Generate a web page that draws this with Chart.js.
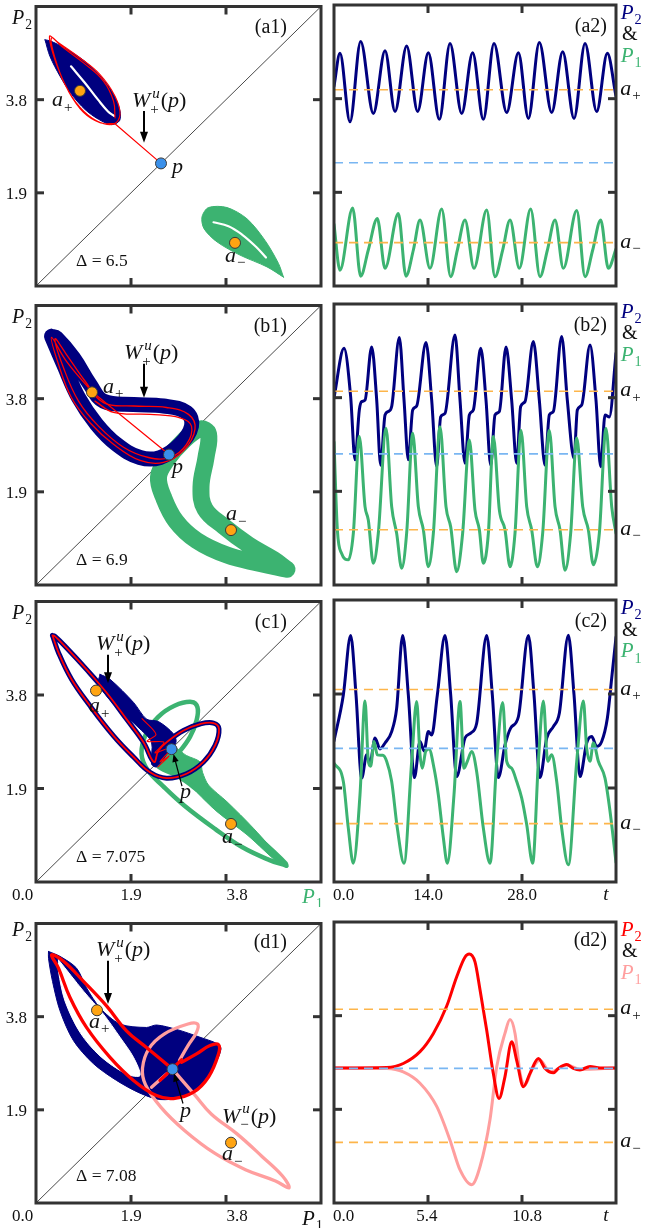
<!DOCTYPE html>
<html>
<head>
<meta charset="utf-8">
<title>P1 / P2</title>
<script src="https://cdn.jsdelivr.net/npm/chart.js@4.4.1/dist/chart.umd.min.js"></script>
<style>
  html, body { margin: 0; padding: 0; background: #fff; }
  body { position: relative; width: 645px; height: 1228px; overflow: hidden; }
  canvas { position: absolute; }
</style>
</head>
<body>
<canvas id="a1" width="328" height="311" style="left:0;top:0"></canvas>
<canvas id="a2" width="317" height="311" style="left:328px;top:0"></canvas>
<canvas id="b1" width="328" height="311" style="left:0;top:299px"></canvas>
<canvas id="b2" width="317" height="311" style="left:328px;top:299px"></canvas>
<canvas id="c1" width="328" height="312" style="left:0;top:595px"></canvas>
<canvas id="c2" width="317" height="312" style="left:328px;top:595px"></canvas>
<canvas id="d1" width="328" height="311" style="left:0;top:917px"></canvas>
<canvas id="d2" width="317" height="311" style="left:328px;top:917px"></canvas>
<script>
// ===== valeurs =====
const phaseMax = 5.7;
const phaseTicks = [1.9, 3.8];
const phaseTickLabels = ['1.9', '3.8'];
const timeMax = [42, 42, 42, 16.2];
const timeTicksLong = [14, 28];
const timeTickLabelsLong = ['0.0', '14.0', '28.0'];
const timeTicksShort = [5.4, 10.8];
const timeTickLabelsShort = ['0.0', '5.4', '10.8'];
const deltas = ['6.5', '6.9', '7.075', '7.08'];
const diagonal = [[0, 0], [5.7, 5.7]];

// points fixes a+, a-, p pour chaque ligne (a, b, c, d)
const aPlusPts = [[0.88, 3.98], [1.12, 3.93], [1.2, 3.89], [1.22, 3.93]];
const aMinusPts = [[3.98, 0.88], [3.9, 1.12], [3.9, 1.18], [3.9, 1.23]];
const pPts = [[2.5, 2.5], [2.66, 2.66], [2.71, 2.7], [2.73, 2.73]];

// --- (a1) ---
const a1Navy = [[0.18,5.02],[0.28,4.68],[0.48,4.28],[0.71,3.91],[0.98,3.60],[1.25,3.40],[1.51,3.29],[1.67,3.37],[1.68,3.57],[1.55,3.91],[1.31,4.25],[0.98,4.58],[0.58,4.85],[0.28,5.00]];
const a1NavyGap = [[0.70,4.48],[0.98,4.14],[1.24,3.80],[1.44,3.56],[1.56,3.47]];
const a1Green = [[4.95,0.18],[4.62,0.39],[4.08,0.63],[3.62,0.90],[3.36,1.17],[3.32,1.41],[3.45,1.60],[3.82,1.60],[4.22,1.37],[4.58,0.93],[4.85,0.46]];
const a1GreenGap = [[3.55,1.30],[3.85,1.22],[4.12,1.05],[4.40,0.80],[4.60,0.58]];
const a1RedStem = [[2.5,2.5],[1.58,3.31]];
const a1Red = [[1.58,3.31],[1.28,3.33],[0.95,3.54],[0.65,3.97],[0.41,4.52],[0.27,5.09],[0.45,4.96],[0.88,4.65],[1.28,4.31],[1.58,3.87],[1.68,3.50],[1.55,3.30],[1.21,3.37],[0.88,3.64],[0.58,4.11],[0.38,4.65],[0.31,5.06],[0.51,4.89],[0.95,4.55],[1.35,4.18],[1.55,3.77],[1.58,3.43]];

// --- (b1) ---
const b1Navy = [[0.31,5.07],[0.55,4.50],[0.85,3.82],[1.21,3.28],[1.61,2.87],[2.08,2.60],[2.48,2.60],[2.88,2.87],[3.11,3.24],[3.01,3.52],[2.55,3.65],[1.95,3.68],[1.35,3.75],[1.08,4.09],[0.75,4.63],[0.41,5.04]];
const b1Green = [[5.02,0.32],[4.48,0.44],[3.82,0.61],[3.21,0.91],[2.80,1.30],[2.55,1.79],[2.45,2.20],[2.61,2.54],[2.95,2.94],[3.28,3.18],[3.45,3.08],[3.40,2.60],[3.30,2.00],[3.38,1.55],[3.75,1.20],[4.25,0.82],[4.75,0.52]];
const b1RedStem = [[2.66,2.66],[1.11,3.95]];
const b1Red = [[1.11,3.95],[0.61,4.56],[0.31,5.05],[0.45,4.50],[0.71,3.82],[1.08,3.31],[1.55,2.87],[2.08,2.54],[2.55,2.50],[2.95,2.74],[3.18,3.18],[3.05,3.48],[2.61,3.62],[1.95,3.65],[1.35,3.72],[0.98,4.16],[0.61,4.70],[0.38,5.02],[0.55,4.43],[0.85,3.75],[1.25,3.24],[1.75,2.81],[2.25,2.60],[2.68,2.60],[3.01,2.87],[3.11,3.24],[2.88,3.41],[2.28,3.48],[1.55,3.52],[1.18,3.75]];

// --- (c1) ---
const c1Navy = [[0.33,5.01],[0.45,4.66],[0.71,4.12],[1.08,3.58],[1.55,2.97],[1.95,2.54],[2.28,2.23],[2.61,2.11],[3.01,2.20],[3.35,2.44],[3.58,2.77],[3.66,3.11],[3.55,3.23],[3.28,3.21],[2.95,3.08],[2.65,2.87],[2.45,2.67],[2.36,2.44],[2.15,2.84],[1.81,3.31],[1.41,3.85],[1.01,4.32],[0.61,4.76],[0.38,4.99]];
const c1NavyWedge = [[1.28,4.22],[1.48,4.12],[1.95,3.65],[2.21,3.31],[2.45,3.26],[2.75,3.01],[2.80,2.84],[2.65,2.64],[2.41,2.34],[2.31,2.40],[2.31,2.84],[2.08,3.11],[1.61,3.55],[1.25,4.02]];
const c1Green = [[5.01,0.33],[4.66,0.45],[4.12,0.71],[3.58,1.08],[2.97,1.55],[2.54,1.95],[2.23,2.28],[2.11,2.61],[2.20,3.01],[2.44,3.35],[2.77,3.58],[3.11,3.66],[3.23,3.55],[3.21,3.28],[3.08,2.95],[2.87,2.65],[2.67,2.45],[2.44,2.36],[2.84,2.15],[3.31,1.81],[3.85,1.41],[4.32,1.01],[4.76,0.61],[4.99,0.38]];
const c1GreenWedge = [[2.45,2.64],[2.75,2.74],[3.01,2.57],[3.28,2.44],[3.33,2.23],[3.45,1.97],[3.82,1.63],[4.35,1.09],[4.92,0.42],[4.88,0.36],[4.22,0.96],[3.62,1.43],[3.21,1.83],[2.88,2.17],[2.55,2.30],[2.41,2.40]];
const c1RedTangle = [[2.12,3.32],[2.40,3.00],[2.22,2.86],[2.56,2.84],[2.38,2.62],[2.72,2.74],[2.48,2.44],[2.66,2.56],[2.44,2.34]];

// --- (d1) ---
const d1NavyOuter = [[0.25,5.13],[0.48,5.03],[0.81,4.79],[1.01,4.39],[1.28,3.98],[1.68,3.65],[2.21,3.58],[2.41,3.63],[2.81,3.54],[3.28,3.38],[3.62,3.25],[3.70,3.14],[3.55,2.77],[3.28,2.40],[2.91,2.16],[2.48,2.11],[2.08,2.24],[1.61,2.50],[1.15,2.84],[0.75,3.31],[0.48,3.92],[0.33,4.52],[0.25,4.99]];
const d1NavyHole = [[0.45,4.96],[0.95,4.32],[1.35,3.85],[1.68,3.38],[1.95,2.97],[2.08,2.60],[1.81,2.63],[1.28,3.00],[0.88,3.48],[0.58,4.12],[0.45,4.73]];
const d1Red = [[2.73,2.73],[2.21,3.17],[1.81,3.51],[1.41,4.02],[0.95,4.52],[0.55,4.93],[0.31,5.06],[0.45,4.79],[0.68,4.19],[1.01,3.58],[1.48,2.97],[1.95,2.50],[2.41,2.19],[2.75,2.13],[3.15,2.26],[3.45,2.57],[3.65,3.04],[3.65,3.23],[3.48,3.21],[3.21,3.04],[2.91,2.87]];
const d1RedSeg = [[2.48,2.50],[2.91,2.92]];
const d1Pink = [[2.73,2.73],[3.17,2.21],[3.51,1.81],[4.02,1.41],[4.52,0.95],[4.93,0.55],[5.06,0.31],[4.79,0.45],[4.19,0.68],[3.58,1.01],[2.97,1.48],[2.50,1.95],[2.19,2.41],[2.13,2.75],[2.26,3.15],[2.57,3.45],[3.04,3.65],[3.23,3.65],[3.21,3.48],[3.04,3.21],[2.87,2.91]];
const d1PinkSeg = [[2.31,2.36],[2.61,2.63]];

// --- séries temporelles [t, valeur] ---
const a2P2 = [[0,4.05],[0.89,4.72],[2.38,3.33],[3.97,4.96],[5.86,3.50],[7.60,4.77],[9.09,3.54],[10.82,4.87],[12.46,3.54],[14.05,4.73],[15.69,3.38],[17.28,4.92],[19.02,3.50],[20.65,4.73],[22.24,3.38],[23.83,4.92],[25.72,3.52],[27.46,4.73],[28.95,3.40],[30.58,4.94],[32.42,3.52],[34.06,4.75],[35.75,3.40],[37.39,4.92],[39.12,3.54],[40.71,4.72],[42,3.85]];
const a2P1 = [[0,1.25],[0.89,0.32],[2.78,1.58],[3.97,0.20],[5.11,0.73],[6.45,1.37],[7.60,0.36],[9.58,1.47],[10.72,0.20],[11.82,0.73],[12.81,1.34],[14.30,0.36],[16.04,1.56],[17.38,0.19],[18.37,0.73],[19.51,1.34],[20.85,0.36],[22.74,1.54],[23.98,0.19],[25.12,0.73],[26.22,1.34],[27.60,0.36],[29.29,1.56],[30.68,0.19],[31.78,0.73],[32.92,1.34],[34.16,0.36],[36.15,1.53],[37.39,0.19],[38.53,0.73],[39.72,1.34],[40.86,0.36],[42,0.75]];
const b2P2 = [[0,3.80],[1.49,4.80],[2.48,3.82],[3.13,2.54],[3.77,3.55],[4.12,3.72],[4.62,3.75],[5.61,4.83],[6.36,3.75],[6.95,2.43],[7.60,3.45],[8.09,3.52],[8.59,3.62],[9.73,5.02],[10.43,3.75],[11.07,2.54],[11.72,3.55],[12.31,3.63],[13.70,4.92],[14.55,3.75],[15.29,2.40],[15.89,3.41],[16.53,3.48],[18.02,5.07],[18.77,3.75],[19.51,2.47],[20.16,3.45],[20.75,3.55],[21.85,4.80],[22.64,3.75],[23.34,2.43],[23.98,3.45],[24.63,3.52],[25.62,4.83],[26.46,3.75],[27.21,2.47],[27.80,3.62],[28.45,3.72],[29.69,4.94],[30.58,3.75],[31.43,2.43],[32.07,3.45],[32.67,3.52],[33.91,5.04],[34.75,3.75],[35.75,2.57],[36.24,3.55],[36.89,3.65],[38.13,4.87],[39.02,3.75],[39.72,2.40],[40.37,3.45],[41.01,3.41],[42,4.70]];
const b2P1 = [[0,2.90],[0.50,1.12],[1.14,0.64],[2.13,0.51],[2.88,1.05],[3.77,3.01],[4.62,1.59],[5.11,1.32],[5.86,0.44],[6.60,1.05],[7.75,3.18],[8.59,1.59],[9.33,1.05],[10.08,0.34],[10.82,1.05],[11.72,3.08],[12.56,1.59],[13.31,1.12],[14.05,0.37],[14.80,1.05],[15.79,3.21],[16.68,1.59],[17.38,1.18],[18.27,0.27],[19.16,1.05],[20.16,2.94],[21.00,1.52],[21.65,1.12],[22.24,0.44],[22.99,1.05],[23.73,3.01],[24.63,1.52],[25.47,1.12],[26.22,0.37],[26.96,1.05],[27.85,3.14],[28.70,1.59],[29.44,1.12],[30.29,0.37],[31.08,1.05],[32.07,3.14],[32.92,1.59],[33.66,1.12],[34.41,0.30],[35.25,1.05],[36.15,2.98],[37.04,1.59],[37.88,1.12],[38.63,0.41],[39.52,1.05],[40.51,3.18],[41.36,1.59],[42,1.05]];
const c2P2 = [[0,2.85],[1.39,3.78],[2.48,4.98],[3.28,3.78],[4.12,2.10],[4.87,2.57],[5.36,2.40],[6.11,2.91],[6.85,2.69],[7.60,2.81],[8.59,3.04],[9.33,3.51],[10.23,4.98],[11.07,3.78],[11.97,2.11],[12.81,2.84],[13.41,2.65],[14.05,3.04],[14.55,2.97],[15.39,3.78],[16.53,4.98],[17.38,3.78],[18.27,2.13],[19.51,2.91],[20.36,3.01],[21.25,3.21],[22.74,4.98],[23.58,3.78],[24.48,2.11],[25.47,2.77],[26.31,3.11],[27.46,3.34],[28.95,4.98],[29.79,3.78],[30.68,2.11],[31.68,2.91],[32.67,3.14],[33.56,3.41],[34.90,4.99],[35.75,3.78],[36.64,2.13],[37.63,2.81],[38.38,2.94],[39.12,2.74],[39.87,2.84],[40.71,3.31],[41.36,4.12],[42,4.95]];
const c2P1 = [[0,2.40],[1.39,2.03],[2.13,1.09],[2.88,0.38],[3.87,1.76],[4.62,3.66],[5.11,2.44],[5.46,2.34],[5.96,2.84],[6.45,2.57],[7.25,2.56],[7.84,2.44],[8.59,2.03],[9.43,1.09],[10.43,0.38],[11.57,2.44],[12.31,3.65],[12.81,2.57],[13.16,2.30],[13.65,2.64],[14.15,2.69],[14.90,2.30],[15.54,1.76],[16.29,0.89],[16.88,0.38],[17.87,1.76],[18.77,3.65],[19.36,2.30],[19.86,2.44],[20.51,2.64],[21.25,2.23],[22.24,1.09],[23.24,0.38],[24.23,2.44],[25.12,3.63],[25.72,2.44],[26.46,2.30],[27.21,2.03],[27.95,1.70],[28.70,1.16],[29.59,0.38],[30.44,2.44],[31.18,3.66],[31.83,2.44],[32.42,2.57],[33.17,2.03],[33.91,1.09],[34.90,0.35],[36.15,2.44],[37.14,3.66],[37.63,2.71],[38.13,2.44],[38.63,2.81],[39.37,2.44],[40.36,2.10],[41.11,1.43],[42,0.40]];
const d2P2 = [[0,2.74],[3.03,2.75],[3.98,2.83],[4.94,3.07],[5.71,3.44],[6.47,3.99],[7.05,4.59],[7.53,4.99],[7.77,5.05],[8.10,4.89],[8.39,4.32],[8.77,3.51],[9.15,2.63],[9.48,2.12],[9.82,2.56],[10.21,3.27],[10.49,2.90],[10.88,2.36],[11.26,2.63],[11.74,2.93],[12.12,2.73],[12.60,2.64],[12.89,2.73],[13.37,2.81],[13.75,2.73],[14.13,2.70],[14.71,2.77],[15.28,2.74],[16.2,2.74]];
const d2P1 = [[0,2.74],[3.03,2.73],[3.98,2.66],[4.94,2.43],[5.90,1.96],[6.66,1.28],[7.24,0.67],[7.91,0.37],[8.39,0.74],[8.96,1.69],[9.35,2.77],[9.82,3.44],[10.11,3.72],[10.40,3.44],[10.69,2.63],[10.97,2.39],[11.36,2.70],[11.83,2.90],[12.41,2.66],[13.37,2.80],[14.13,2.71],[16.2,2.74]];

// ===== couleurs =====
const NAVY = '#00007f', GREEN = '#3cb371', RED = '#ff0000', PINK = '#ff9e9e';
const ORANGE = '#ffa412', BLUE = '#3a90ea';
const DASH_OR = '#fdb54a', DASH_BL = '#79b6f2';
const FONT = '"Liberation Serif", "DejaVu Serif", serif';

// ===== outils =====
const toXY = (arr) => arr.map(([x, y]) => ({ x, y }));
const closed = (arr) => arr.concat([arr[0]]);

function curve(arr, color, width, tension) {
  return {
    data: toXY(arr), showLine: true, borderColor: color, borderWidth: width,
    tension: tension === undefined ? 0.4 : tension, pointRadius: 0,
    borderJoinStyle: 'round', borderCapStyle: 'round', fill: false, clip: 0
  };
}
function area(arr, color) {
  return Object.assign(curve(closed(arr), color, 1, 0.3), { fill: 'shape', backgroundColor: color });
}
function wave(arr, color) {
  return Object.assign(curve(arr, color, 3), { cubicInterpolationMode: 'monotone' });
}
function level(v, tm, color) {
  return Object.assign(curve([[0, v], [tm, v]], color, 1.6, 0), { borderDash: [9, 6], borderCapStyle: 'butt' });
}
function dot(pt, color) {
  return {
    data: toXY([pt]), showLine: false, pointRadius: 5.5, pointBackgroundColor: color,
    pointBorderColor: '#3a3a3a', pointBorderWidth: 1, clip: false
  };
}

// texte "mathématique" : romain, italique, indice, exposant+indice empilés
const R = (t) => ({ t });
const I = (t) => ({ t, i: true });
const S = (t) => ({ t, sub: true });
const SS = (sup, sub) => ({ sup, sub });
const P2lbl = [I('P'), S('2')];
const P1lbl = [I('P'), S('1')];
const aPlusLbl = [I('a'), S('+')];
const aMinusLbl = [I('a'), S('\u2212')];
const WPlus = [I('W'), SS('u', '+'), R('('), I('p'), R(')')];
const WMinus = [I('W'), SS('u', '\u2212'), R('('), I('p'), R(')')];
const MATH = 22;

const fontOf = (size, it) => (it ? 'italic ' : '') + size.toFixed(1) + 'px ' + FONT;

function partWidth(ctx, p, s) {
  if (p.sup !== undefined) {
    ctx.font = fontOf(s * 0.68, true);
    const a = ctx.measureText(p.sup).width;
    ctx.font = fontOf(s * 0.68, false);
    const b = ctx.measureText(p.sub).width;
    return Math.max(a, b) + 2;
  }
  ctx.font = fontOf(p.sub ? s * 0.68 : s, p.i);
  return ctx.measureText(p.t).width + (p.sub ? 1 : 0);
}

function drawRich(ctx, x, y, parts, s, color, al) {
  const widths = parts.map((p) => partWidth(ctx, p, s));
  const total = widths.reduce((a, b) => a + b, 0);
  let cx = al === 'right' ? x - total : al === 'center' ? x - total / 2 : x;
  ctx.fillStyle = color || '#111';
  ctx.textAlign = 'left';
  ctx.textBaseline = 'alphabetic';
  parts.forEach((p, i) => {
    if (p.sup !== undefined) {
      ctx.font = fontOf(s * 0.68, true);
      ctx.fillText(p.sup, cx + 2, y - s * 0.42);
      ctx.font = fontOf(s * 0.68, false);
      ctx.fillText(p.sub, cx, y + s * 0.3);
    } else {
      ctx.font = fontOf(p.sub ? s * 0.68 : s, p.i);
      ctx.fillText(p.t, cx + (p.sub ? 1 : 0), p.sub ? y + s * 0.25 : y);
    }
    cx += widths[i];
  });
}

function drawArrow(ctx, x1, y1, x2, y2, w) {
  const ang = Math.atan2(y2 - y1, x2 - x1);
  const h = w > 1.5 ? 11 : 8, hw = w > 1.5 ? 4 : 3.2;
  const c = Math.cos(ang), s = Math.sin(ang);
  ctx.strokeStyle = '#000';
  ctx.lineWidth = w;
  ctx.beginPath();
  ctx.moveTo(x1, y1);
  ctx.lineTo(x2 - h * 0.8 * c, y2 - h * 0.8 * s);
  ctx.stroke();
  ctx.fillStyle = '#000';
  ctx.beginPath();
  ctx.moveTo(x2, y2);
  ctx.lineTo(x2 - h * c + hw * s, y2 - h * s - hw * c);
  ctx.lineTo(x2 - h * c - hw * s, y2 - h * s + hw * c);
  ctx.closePath();
  ctx.fill();
}

// cadre, graduations, textes et flèches
const decorById = {};
const decorPlugin = {
  id: 'decor',
  afterDatasetsDraw(chart) {
    const d = decorById[chart.canvas.id];
    if (!d) return;
    const { ctx, chartArea: a } = chart;
    const sx = chart.scales.x, sy = chart.scales.y;
    ctx.save();
    ctx.strokeStyle = '#333';
    ctx.lineWidth = 3;
    ctx.lineCap = 'butt';
    const seg = (x1, y1, x2, y2) => { ctx.beginPath(); ctx.moveTo(x1, y1); ctx.lineTo(x2, y2); ctx.stroke(); };
    d.xTicks.forEach((v) => {
      const px = sx.getPixelForValue(v);
      seg(px, a.top, px, a.top + 8);
      seg(px, a.bottom, px, a.bottom - 8);
    });
    d.yTicks.forEach((v) => {
      const py = sy.getPixelForValue(v);
      seg(a.left, py, a.left + 8, py);
      seg(a.right, py, a.right - 8, py);
    });
    ctx.strokeRect(a.left, a.top, a.right - a.left, a.bottom - a.top);
    (d.arrows || []).forEach((ar) => {
      drawArrow(ctx, sx.getPixelForValue(ar[0]), sy.getPixelForValue(ar[1]),
        sx.getPixelForValue(ar[2]), sy.getPixelForValue(ar[3]), ar[4] || 2);
    });
    d.labels.forEach((lb) => {
      drawRich(ctx, sx.getPixelForValue(lb.x), sy.getPixelForValue(lb.y) + (lb.dy || 0),
        lb.p, lb.s, lb.c, lb.al);
    });
    ctx.restore();
  }
};

function makeChart(id, layers, xMax, pad, decor) {
  decorById[id] = decor;
  return new Chart(document.getElementById(id), {
    type: 'scatter',
    data: { datasets: layers.slice().reverse() }, // le premier de la liste est dessiné dessous
    options: {
      responsive: false,
      animation: false,
      devicePixelRatio: 1,
      events: [],
      layout: { padding: pad },
      plugins: { legend: { display: false }, tooltip: { enabled: false } },
      scales: {
        x: { type: 'linear', min: 0, max: xMax, display: false },
        y: { type: 'linear', min: 0, max: phaseMax, display: false }
      }
    },
    plugins: [decorPlugin]
  });
}

const LEFT_PAD = { left: 36, right: 7, top: 5, bottom: 25 };
const RIGHT_PAD = { left: 6, right: 29, top: 5, bottom: 25 };
const rowNames = ['a', 'b', 'c', 'd'];

function leftDecor(k, labels, arrows) {
  const base = [
    { x: -0.18, y: phaseTicks[1], dy: 6, p: [R(phaseTickLabels[1])], s: 17, al: 'right' },
    { x: -0.18, y: phaseTicks[0], dy: 6, p: [R(phaseTickLabels[0])], s: 17, al: 'right' },
    { x: -0.48, y: k === 3 ? 5.44 : 5.35, p: P2lbl, s: 20 },
    { x: 5.02, y: k === 3 ? 5.21 : 5.16, p: [R('(' + rowNames[k] + '1)')], s: 20, al: 'right' },
    { x: 0.80, y: k === 3 ? 0.45 : 0.41, p: [R('\u0394 = ' + deltas[k])], s: 17.5 }
  ];
  return { xTicks: phaseTicks, yTicks: phaseTicks, labels: base.concat(labels), arrows };
}

function phaseAxisLabels(p1Color, p1y) {
  return [
    { x: -0.27, y: -0.36, p: [R('0.0')], s: 17, al: 'center' },
    { x: phaseTicks[0], y: -0.36, p: [R(phaseTickLabels[0])], s: 17, al: 'center' },
    { x: 4.02, y: -0.36, p: [R(phaseTickLabels[1])], s: 17, al: 'center' },
    { x: 5.32, y: p1y, p: P1lbl, s: 21, c: p1Color }
  ];
}

function rightDecor(k, ticks, c2, c1, extra) {
  const tm = timeMax[k];
  const labels = [
    { x: tm * 1.017, y: 5.42, p: P2lbl, s: 21, c: c2 },
    { x: tm * 1.021, y: 4.98, p: [R('&')], s: 20 },
    { x: tm * 1.017, y: 4.54, p: P1lbl, s: 21, c: c1 },
    { x: tm * 1.015, y: aPlusPts[k][1], dy: 5, p: aPlusLbl, s: MATH },
    { x: tm * 1.015, y: aMinusPts[k][1], dy: 5, p: aMinusLbl, s: MATH },
    { x: tm * 0.968, y: k === 3 ? 5.21 : 5.16, p: [R('(' + rowNames[k] + '2)')], s: 20, al: 'right' }
  ];
  return { xTicks: ticks, yTicks: phaseTicks, labels: labels.concat(extra || []) };
}

function levels(k) {
  const tm = timeMax[k];
  return [level(aPlusPts[k][1], tm, DASH_OR), level(aMinusPts[k][1], tm, DASH_OR), level(pPts[k][1], tm, DASH_BL)];
}
function fixedDots(k) {
  return [dot(aPlusPts[k], ORANGE), dot(aMinusPts[k], ORANGE), dot(pPts[k], BLUE)];
}

// ---------- ligne a ----------
makeChart('a1', [
  curve(diagonal, '#4a4a4a', 1, 0),
  area(a1Green, GREEN),
  curve(a1GreenGap, '#ffffff', 2.2),
  area(a1Navy, NAVY),
  curve(a1NavyGap, '#ffffff', 2.2),
  curve(a1Red, RED, 1.2),
  curve(a1RedStem, RED, 1.2, 0),
  ...fixedDots(0)
], phaseMax, LEFT_PAD, leftDecor(0, [
  { x: 1.92, y: 3.65, p: WPlus, s: MATH },
  { x: 2.72, y: 2.31, p: [I('p')], s: MATH },
  { x: 0.32, y: 3.67, p: aPlusLbl, s: MATH },
  { x: 3.78, y: 0.49, p: aMinusLbl, s: MATH }
], [[2.16, 3.57, 2.16, 2.92, 2]]));

makeChart('a2', [
  wave(a2P2, NAVY),
  wave(a2P1, GREEN),
  ...levels(0)
], timeMax[0], RIGHT_PAD, rightDecor(0, timeTicksLong, NAVY, GREEN));

// ---------- ligne b ----------
makeChart('b1', [
  curve(diagonal, '#4a4a4a', 1, 0),
  curve(closed(b1Green), GREEN, 17),
  curve(closed(b1Navy), NAVY, 15),
  curve(b1Red, RED, 1.3),
  curve(b1RedStem, RED, 1.2, 0),
  ...fixedDots(1)
], phaseMax, LEFT_PAD, leftDecor(1, [
  { x: 1.76, y: 4.61, p: WPlus, s: MATH },
  { x: 2.72, y: 2.29, p: [I('p')], s: MATH },
  { x: 1.34, y: 3.92, p: aPlusLbl, s: MATH },
  { x: 3.80, y: 1.32, p: aMinusLbl, s: MATH }
], [[2.16, 4.51, 2.16, 3.82, 2]]));

makeChart('b2', [
  wave(b2P2, NAVY),
  wave(b2P1, GREEN),
  ...levels(1)
], timeMax[1], RIGHT_PAD, rightDecor(1, timeTicksLong, NAVY, GREEN));

// ---------- ligne c ----------
makeChart('c1', [
  curve(diagonal, '#4a4a4a', 1, 0),
  area(c1GreenWedge, GREEN),
  curve(closed(c1Green), GREEN, 4.5),
  area(c1NavyWedge, NAVY),
  curve(closed(c1Navy), NAVY, 5),
  curve(closed(c1Navy), RED, 1.8),
  curve(c1RedTangle, RED, 1.1, 0.3),
  ...fixedDots(2)
], phaseMax, LEFT_PAD, leftDecor(2, [
  { x: 1.20, y: 4.71, p: WPlus, s: MATH },
  { x: 2.88, y: 1.71, p: [I('p')], s: MATH },
  { x: 1.06, y: 3.45, p: aPlusLbl, s: MATH },
  { x: 3.72, y: 0.79, p: aMinusLbl, s: MATH }
].concat(phaseAxisLabels(GREEN, -0.43)), [[1.44, 4.62, 1.44, 4.04, 2], [2.92, 1.95, 2.75, 2.6, 1.2]]));

makeChart('c2', [
  wave(c2P2, NAVY),
  wave(c2P1, GREEN),
  ...levels(2)
], timeMax[2], RIGHT_PAD, rightDecor(2, timeTicksLong, NAVY, GREEN, [
  { x: -0.15, y: -0.36, p: [R(timeTickLabelsLong[0])], s: 17 },
  { x: timeTicksLong[0], y: -0.36, p: [R(timeTickLabelsLong[1])], s: 17, al: 'center' },
  { x: timeTicksLong[1], y: -0.36, p: [R(timeTickLabelsLong[2])], s: 17, al: 'center' },
  { x: 40.5, y: -0.36, p: [I('t')], s: 19, al: 'center' }
]));

// ---------- ligne d ----------
makeChart('d1', [
  curve(diagonal, '#4a4a4a', 1, 0),
  area(d1NavyOuter, NAVY),
  area(d1NavyHole, '#ffffff'),
  curve(d1Pink, PINK, 3.3),
  curve(d1PinkSeg, PINK, 3.3, 0),
  curve(d1Red, RED, 3.3),
  curve(d1RedSeg, RED, 3.3, 0),
  ...fixedDots(3)
], phaseMax, LEFT_PAD, leftDecor(3, [
  { x: 1.20, y: 5.03, p: WPlus, s: MATH },
  { x: 2.88, y: 1.75, p: [I('p')], s: MATH },
  { x: 3.72, y: 1.64, p: WMinus, s: MATH },
  { x: 1.06, y: 3.57, p: aPlusLbl, s: MATH },
  { x: 3.72, y: 0.87, p: aMinusLbl, s: MATH }
].concat(phaseAxisLabels('#111', -0.45)), [[1.44, 4.94, 1.44, 4.06, 2], [2.94, 2.03, 2.76, 2.64, 1.2]]));

makeChart('d2', [
  wave(d2P1, PINK),
  wave(d2P2, RED),
  ...levels(3)
], timeMax[3], RIGHT_PAD, rightDecor(3, timeTicksShort, RED, PINK, [
  { x: -0.06, y: -0.36, p: [R(timeTickLabelsShort[0])], s: 17 },
  { x: 5.34, y: -0.36, p: [R(timeTickLabelsShort[1])], s: 17, al: 'center' },
  { x: 11.09, y: -0.36, p: [R(timeTickLabelsShort[2])], s: 17, al: 'center' },
  { x: 15.62, y: -0.36, p: [I('t')], s: 19, al: 'center' }
]));
</script>
</body>
</html>
